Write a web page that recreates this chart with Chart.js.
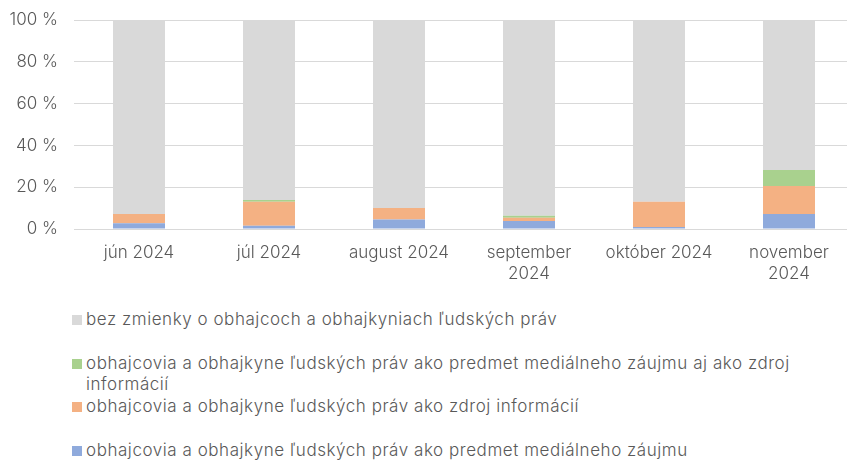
<!DOCTYPE html>
<html>
<head>
<meta charset="utf-8">
<script src="https://cdn.jsdelivr.net/npm/chart.js@4"></script>
<style>
  html, body { margin: 0; padding: 0; background: #fff; overflow: hidden; }
  body { width: 847px; height: 461px; position: relative; font-family: "Inter", "Open Sans", sans-serif; }
  #wrap { position: absolute; left: 0; top: -6px; width: 860px; height: 296px; }
  #legenda { position: absolute; left: 72px; top: 309px; width: 770px; color: #595959; font-size: 17px; font-weight: 300; letter-spacing: 0.55px; }
  #legenda .item { height: 43.7px; line-height: 21px; display: flex; align-items: flex-start; }
  #legenda .box { width: 10px; height: 10px; flex: 0 0 10px; margin-top: 6px; margin-right: 4px; }
</style>
</head>
<body>
<div id="wrap"><canvas id="graf"></canvas></div>
<div id="legenda"></div>
<script>
// mesiace
const mesiace = ['jún 2024', 'júl 2024', 'august 2024', 'september 2024', 'október 2024', 'november 2024'];

// podiely v % (odčítané z grafu)
const predmetZaujmu = [2.7, 1.6, 4.5, 3.8, 1.0, 7.2];
const zdrojInformacii = [4.5, 11.5, 5.5, 1.6, 12.1, 13.4];
const predmetAjZdroj = [0, 0.8, 0, 1.0, 0, 7.6];
const bezZmienky = [92.8, 86.1, 90.0, 93.6, 86.9, 71.8];

const yTicky = [0, 20, 40, 60, 80, 100];

const pismo = { family: 'Inter, "Open Sans", sans-serif', size: 17, weight: 300 };
const sedaText = '#595959';

const datasety = [
  { label: 'obhajcovia a obhajkyne ľudských práv ako predmet mediálneho záujmu', data: predmetZaujmu, backgroundColor: '#8faadc' },
  { label: 'obhajcovia a obhajkyne ľudských práv ako zdroj informácií', data: zdrojInformacii, backgroundColor: '#f4b183' },
  { label: 'obhajcovia a obhajkyne ľudských práv ako predmet mediálneho záujmu aj ako zdroj informácií', data: predmetAjZdroj, backgroundColor: '#a9d18e' },
  { label: 'bez zmienky o obhajcoch a obhajkyniach ľudských práv', data: bezZmienky, backgroundColor: '#d9d9d9' }
];

const canvas = document.getElementById('graf');
canvas.width = 860;
canvas.height = 296;

const graf = new Chart(canvas, {
  type: 'bar',
  data: {
    labels: mesiace,
    datasets: datasety.map(d => Object.assign({ borderWidth: 0, categoryPercentage: 1, barPercentage: 0.4 }, d))
  },
  options: {
    responsive: false,
    animation: false,
    layout: { padding: { top: 15, right: 6, left: 0, bottom: 0 } },
    plugins: { legend: { display: false }, tooltip: { enabled: false } },
    scales: {
      x: {
        stacked: true,
        grid: { display: false },
        border: { color: '#d9d9d9', width: 1 },
        ticks: {
          color: sedaText,
          font: pismo,
          padding: 6,
          maxRotation: 0,
          autoSkip: false,
          callback: function(v) {
            const t = this.getLabelForValue(v);
            // dlhé názvy sa zalomia na dva riadky
            return t.length >= 13 ? t.split(' ') : t;
          }
        },
        afterFit: s => { s.height = 61; }
      },
      y: {
        stacked: true,
        min: 0,
        max: 100,
        afterBuildTicks: s => { s.ticks = yTicky.map(v => ({ value: v })); },
        grid: { color: '#d9d9d9', lineWidth: 1, drawTicks: false },
        border: { display: false },
        ticks: { color: sedaText, font: pismo, padding: 16, callback: v => v + ' %' },
        afterFit: s => { s.width = 74; }
      }
    }
  }
});

// legenda v obrátenom poradí ako v Exceli
const leg = document.getElementById('legenda');
graf.data.datasets.slice().reverse().forEach(d => {
  const it = document.createElement('div');
  it.className = 'item';
  const box = document.createElement('span');
  box.className = 'box';
  box.style.background = d.backgroundColor;
  const txt = document.createElement('span');
  txt.textContent = d.label;
  it.appendChild(box);
  it.appendChild(txt);
  leg.appendChild(it);
});
</script>
</body>
</html>
